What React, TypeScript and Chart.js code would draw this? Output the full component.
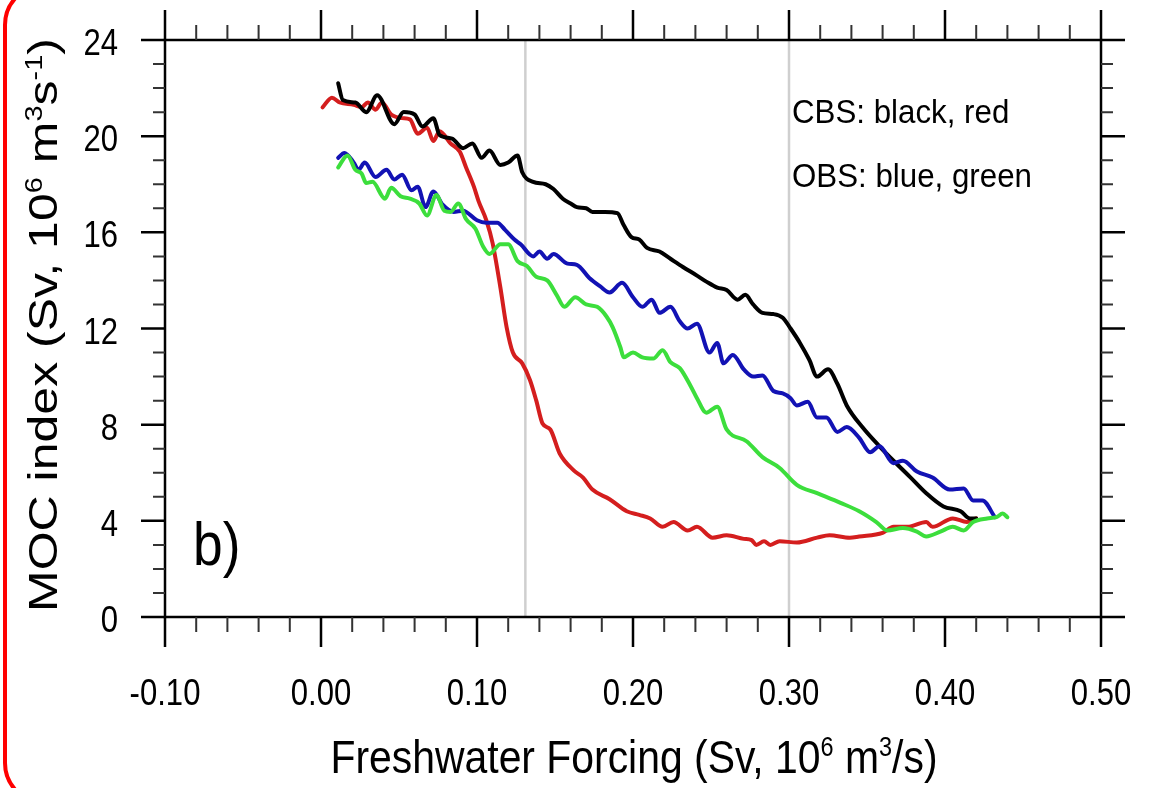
import { useEffect, useRef } from "react";
import { Chart, registerables } from "chart.js";

Chart.register(...registerables);

// ---------- axes ----------
const xMin = -0.1;
const xMax = 0.5;
const yMin = 0;
const yMax = 24;
const xTickStep = 0.1;
const yTickStep = 4;
const xMinorPerMajor = 5;
const yMinorPerMajor = 4;
const refLines = [0.131, 0.3];

// ---------- data ----------
// CBS, black
const cbsBlackX = [0.011, 0.014, 0.022, 0.029, 0.036, 0.047, 0.053, 0.06, 0.065, 0.072, 0.076, 0.084, 0.091, 0.097, 0.103, 0.108, 0.115, 0.12, 0.126, 0.129, 0.136, 0.144, 0.149, 0.155, 0.16, 0.164, 0.17, 0.174, 0.182, 0.19, 0.194, 0.199, 0.204, 0.209, 0.217, 0.224, 0.232, 0.241, 0.247, 0.254, 0.26, 0.267, 0.272, 0.277, 0.283, 0.29, 0.296, 0.301, 0.307, 0.313, 0.318, 0.325, 0.331, 0.337, 0.347, 0.358, 0.367, 0.378, 0.388, 0.399, 0.41, 0.416, 0.42];
const cbsBlackY = [22.2, 21.5, 21.4, 21.0, 21.7, 20.5, 21.0, 20.9, 20.4, 20.75, 20.05, 19.9, 19.5, 19.7, 19.1, 19.4, 18.8, 18.9, 19.2, 18.5, 18.1, 18.0, 17.8, 17.4, 17.2, 17.05, 17.0, 16.85, 16.85, 16.8, 16.3, 15.8, 15.7, 15.35, 15.2, 14.9, 14.56, 14.2, 13.95, 13.7, 13.6, 13.2, 13.4, 13.0, 12.65, 12.6, 12.45, 12.0, 11.4, 10.7, 10.0, 10.3, 9.7, 8.8, 7.9, 7.1, 6.5, 5.8, 5.15, 4.6, 4.4, 4.1, 4.1];

// CBS, red
const cbsRedX = [0.001, 0.007, 0.012, 0.021, 0.026, 0.03, 0.035, 0.039, 0.045, 0.052, 0.057, 0.062, 0.068, 0.072, 0.076, 0.083, 0.089, 0.093, 0.098, 0.101, 0.106, 0.11, 0.115, 0.119, 0.123, 0.129, 0.134, 0.138, 0.142, 0.147, 0.153, 0.162, 0.168, 0.174, 0.185, 0.196, 0.204, 0.211, 0.219, 0.226, 0.235, 0.241, 0.251, 0.26, 0.271, 0.276, 0.279, 0.284, 0.288, 0.294, 0.305, 0.318, 0.326, 0.339, 0.345, 0.36, 0.367, 0.376, 0.388, 0.392, 0.405, 0.414, 0.42];
const cbsRedY = [21.2, 21.6, 21.4, 21.3, 21.2, 21.4, 21.1, 21.4, 20.9, 20.75, 20.7, 20.1, 20.35, 19.8, 20.2, 19.7, 19.35, 18.7, 17.9, 17.3, 16.5, 15.55, 13.7, 12.05, 11.0, 10.55, 9.85, 9.0, 8.05, 7.8, 6.8, 6.1, 5.8, 5.3, 4.9, 4.4, 4.25, 4.1, 3.75, 3.95, 3.6, 3.75, 3.3, 3.4, 3.25, 3.2, 3.0, 3.15, 3.0, 3.15, 3.1, 3.3, 3.4, 3.3, 3.35, 3.5, 3.75, 3.75, 3.95, 3.75, 4.1, 3.95, 4.1];

// OBS, blue
const obsBlueX = [0.011, 0.015, 0.021, 0.024, 0.028, 0.035, 0.042, 0.047, 0.052, 0.058, 0.062, 0.067, 0.072, 0.078, 0.085, 0.091, 0.1, 0.106, 0.113, 0.118, 0.124, 0.128, 0.136, 0.14, 0.145, 0.149, 0.158, 0.164, 0.172, 0.179, 0.185, 0.193, 0.2, 0.206, 0.212, 0.217, 0.224, 0.23, 0.235, 0.241, 0.249, 0.254, 0.258, 0.264, 0.271, 0.277, 0.283, 0.29, 0.296, 0.301, 0.305, 0.312, 0.318, 0.324, 0.331, 0.337, 0.345, 0.352, 0.358, 0.367, 0.373, 0.382, 0.392, 0.403, 0.412, 0.418, 0.424, 0.432];
const obsBlueY = [19.1, 19.3, 18.9, 18.6, 18.9, 18.3, 18.6, 18.2, 18.4, 17.75, 17.9, 17.05, 17.7, 17.15, 16.85, 16.9, 16.5, 16.4, 16.4, 16.1, 15.7, 15.5, 15.0, 15.2, 14.9, 15.1, 14.7, 14.65, 14.1, 13.75, 13.5, 13.9, 13.3, 12.9, 13.2, 12.65, 12.9, 12.3, 12.0, 12.2, 11.0, 11.4, 10.55, 10.9, 10.3, 10.0, 10.05, 9.4, 9.3, 9.1, 8.8, 8.95, 8.3, 8.3, 7.7, 7.9, 7.45, 6.85, 7.1, 6.4, 6.5, 6.05, 5.8, 5.3, 5.35, 4.85, 4.85, 4.15];

// OBS, green
const obsGreenX = [0.011, 0.017, 0.022, 0.026, 0.029, 0.033, 0.041, 0.045, 0.051, 0.057, 0.063, 0.068, 0.074, 0.079, 0.083, 0.088, 0.093, 0.099, 0.104, 0.108, 0.115, 0.12, 0.126, 0.132, 0.138, 0.145, 0.151, 0.156, 0.163, 0.17, 0.177, 0.183, 0.187, 0.192, 0.194, 0.2, 0.206, 0.213, 0.219, 0.224, 0.23, 0.237, 0.241, 0.247, 0.254, 0.26, 0.273, 0.283, 0.294, 0.305, 0.318, 0.333, 0.345, 0.356, 0.363, 0.373, 0.382, 0.388, 0.397, 0.405, 0.412, 0.418, 0.427, 0.433, 0.437, 0.44];
const obsGreenY = [18.7, 19.2, 18.6, 18.45, 18.05, 18.1, 17.4, 17.85, 17.5, 17.4, 17.2, 16.7, 17.55, 16.9, 16.85, 17.2, 16.55, 16.15, 15.4, 15.1, 15.5, 15.5, 14.8, 14.6, 14.15, 14.0, 13.4, 12.9, 13.3, 13.0, 12.9, 12.5, 12.05, 11.2, 10.8, 11.0, 10.8, 10.75, 11.1, 10.6, 10.35, 9.6, 9.1, 8.5, 8.75, 7.8, 7.3, 6.65, 6.2, 5.5, 5.15, 4.75, 4.4, 3.95, 3.6, 3.7, 3.55, 3.35, 3.55, 3.75, 3.6, 3.95, 4.1, 4.15, 4.3, 4.15];

// ---------- texts ----------
const xTitleParts = [
  { t: "Freshwater Forcing (Sv, 10" },
  { t: "6", sup: true },
  { t: " m" },
  { t: "3", sup: true },
  { t: "/s)" },
];
const yTitleParts = [
  { t: "MOC index (Sv, 10" },
  { t: "6", sup: true },
  { t: " m" },
  { t: "3", sup: true },
  { t: "s" },
  { t: "-1", sup: true },
  { t: ")" },
];
const noteLines = ["CBS: black, red", "OBS: blue, green"];
const panelLabel = "b)";

const FONT = "'Liberation Sans', Arial, Helvetica, sans-serif";

type Part = { t: string; sup?: boolean };

function partsWidth(ctx: CanvasRenderingContext2D, parts: Part[], size: number) {
  let w = 0;
  for (const p of parts) {
    ctx.font = `${p.sup ? Math.round(size * 0.58) : size}px ${FONT}`;
    w += ctx.measureText(p.t).width;
  }
  return w;
}

function drawParts(ctx: CanvasRenderingContext2D, parts: Part[], x0: number, size: number) {
  let x = x0;
  for (const p of parts) {
    const s = p.sup ? Math.round(size * 0.58) : size;
    ctx.font = `${s}px ${FONT}`;
    ctx.fillText(p.t, x, p.sup ? -size * 0.37 : 0);
    x += ctx.measureText(p.t).width;
  }
}

function fmtX(v: number) {
  return Math.abs(v) < 1e-9 ? "0.00" : v.toFixed(2);
}

const decorPlugin = {
  id: "decor",
  beforeDraw(chart: any) {
    const { ctx, width, height } = chart;
    ctx.save();
    ctx.fillStyle = "#ffffff";
    ctx.fillRect(0, 0, width, height);
    ctx.restore();
  },
  beforeDatasetsDraw(chart: any) {
    const { ctx, chartArea } = chart;
    const xs = chart.scales.x;
    ctx.save();
    ctx.strokeStyle = "#cfcfcf";
    ctx.lineWidth = 2.5;
    for (const v of refLines) {
      const px = xs.getPixelForValue(v);
      ctx.beginPath();
      ctx.moveTo(px, chartArea.top);
      ctx.lineTo(px, chartArea.bottom);
      ctx.stroke();
    }
    ctx.restore();
  },
  afterDatasetsDraw(chart: any) {
    const { ctx, chartArea } = chart;
    const xs = chart.scales.x;
    const ys = chart.scales.y;
    const { left, right, top, bottom } = chartArea;
    ctx.save();
    ctx.strokeStyle = "#000";
    ctx.lineWidth = 2.5;
    ctx.strokeRect(left, top, right - left, bottom - top);
    // x ticks (top & bottom, outward)
    const xMinor = xTickStep / xMinorPerMajor;
    const nx = Math.round((xMax - xMin) / xMinor);
    for (let i = 0; i <= nx; i++) {
      const v = xMin + i * xMinor;
      const major = i % xMinorPerMajor === 0;
      const px = xs.getPixelForValue(v);
      const len = major ? 30 : 15;
      ctx.lineWidth = major ? 2.5 : 2;
      ctx.strokeStyle = major ? "#000" : "#333";
      ctx.beginPath();
      ctx.moveTo(px, top);
      ctx.lineTo(px, top - len);
      ctx.moveTo(px, bottom);
      ctx.lineTo(px, bottom + len);
      ctx.stroke();
    }
    const yMinor = yTickStep / yMinorPerMajor;
    const ny = Math.round((yMax - yMin) / yMinor);
    for (let i = 0; i <= ny; i++) {
      const v = yMin + i * yMinor;
      const major = i % yMinorPerMajor === 0;
      const py = ys.getPixelForValue(v);
      const len = major ? 24 : 12;
      ctx.lineWidth = major ? 2.5 : 2;
      ctx.strokeStyle = major ? "#000" : "#333";
      ctx.beginPath();
      ctx.moveTo(left, py);
      ctx.lineTo(left - len, py);
      ctx.moveTo(right, py);
      ctx.lineTo(right + len, py);
      ctx.stroke();
    }

    // tick labels, from the library's own tick lists
    const labelSize = 37;
    const hs = 0.84;
    ctx.fillStyle = "#000";
    ctx.font = `${labelSize}px ${FONT}`;
    ctx.textBaseline = "alphabetic";
    for (const t of xs.ticks) {
      const txt = fmtX(Number(t.value));
      const w = ctx.measureText(txt).width * hs;
      const px = xs.getPixelForValue(t.value);
      ctx.save();
      ctx.translate(px - w / 2, bottom + 88);
      ctx.scale(hs, 1);
      ctx.fillText(txt, 0, 0);
      ctx.restore();
    }
    for (const t of ys.ticks) {
      const txt = String(Math.round(Number(t.value)));
      const w = ctx.measureText(txt).width * hs;
      const py = ys.getPixelForValue(t.value);
      ctx.save();
      ctx.translate(left - 47 - w, py + 15);
      ctx.scale(hs, 1);
      ctx.fillText(txt, 0, 0);
      ctx.restore();
    }
    ctx.restore();
  },
  afterDraw(chart: any) {
    const { ctx, width, height } = chart;
    ctx.save();
    ctx.fillStyle = "#000";
    ctx.textBaseline = "alphabetic";
    ctx.textAlign = "left";

    // x title
    {
      const size = 47;
      const hs = 0.87;
      const w = partsWidth(ctx, xTitleParts, size) * hs;
      const cx = 634;
      ctx.save();
      ctx.translate(cx - w / 2, 773);
      ctx.scale(hs, 1);
      drawParts(ctx, xTitleParts, 0, size);
      ctx.restore();
    }
    // y title (rotated)
    {
      const size = 50;
      const cs = 0.83;
      const w = partsWidth(ctx, yTitleParts, size);
      ctx.save();
      ctx.translate(57, 325);
      ctx.rotate(-Math.PI / 2);
      ctx.scale(1, cs);
      drawParts(ctx, yTitleParts, -w / 2, size);
      ctx.restore();
    }
    // notes
    {
      const size = 34;
      const hs = 0.92;
      const baselines = [123, 187];
      noteLines.forEach((line, i) => {
        ctx.save();
        ctx.translate(792, baselines[i]);
        ctx.scale(hs, 1);
        ctx.font = `${size}px ${FONT}`;
        ctx.fillText(line, 0, 0);
        ctx.restore();
      });
    }
    // panel label
    {
      ctx.save();
      ctx.translate(193, 565);
      ctx.scale(0.86, 1);
      ctx.font = `62px ${FONT}`;
      ctx.fillText(panelLabel, 0, 0);
      ctx.restore();
    }
    // red rounded border
    {
      const l = 5, t = -15, r = 40;
      const rr = width + 200;
      const b = height + 15;
      ctx.strokeStyle = "#ff0000";
      ctx.lineWidth = 4;
      ctx.beginPath();
      ctx.moveTo(rr, t);
      ctx.lineTo(l + r, t);
      ctx.arcTo(l, t, l, t + r, r);
      ctx.lineTo(l, b - r);
      ctx.arcTo(l, b, l + r, b, r);
      ctx.lineTo(rr, b);
      ctx.stroke();
    }
    ctx.restore();
  },
};

function series(xs: number[], ys: number[]) {
  return xs.map((x, i) => ({ x, y: ys[i] }));
}

export default function App() {
  const ref = useRef<HTMLCanvasElement | null>(null);
  useEffect(() => {
    if (!ref.current) return;
    const lineDs = (label: string, xs: number[], ys: number[], color: string) => ({
      label,
      data: series(xs, ys),
      borderColor: color,
      backgroundColor: color,
      borderWidth: 4,
      pointRadius: 0,
      cubicInterpolationMode: "monotone",
      borderJoinStyle: "round",
      borderCapStyle: "round",
      fill: false,
      xAxisID: "x",
      yAxisID: "y",
    });
    const hiddenAxis = (position: string, min: number, max: number, size: number, horizontal: boolean) => ({
      type: "linear",
      position,
      min,
      max,
      grid: { display: false, drawTicks: false },
      border: { display: false },
      ticks: { display: false },
      afterFit: (s: any) => {
        if (horizontal) s.height = size;
        else s.width = size;
      },
    });
    const chart = new Chart(ref.current, {
      type: "line",
      data: {
        datasets: [
          lineDs("OBS green", obsGreenX, obsGreenY, "rgb(60,222,60)"),
          lineDs("OBS blue", obsBlueX, obsBlueY, "rgb(18,18,180)"),
          lineDs("CBS black", cbsBlackX, cbsBlackY, "#000000"),
          lineDs("CBS red", cbsRedX, cbsRedY, "rgb(212,30,30)"),
        ],
      },
      options: {
        animation: false,
        responsive: false,
        devicePixelRatio: 1,
        layout: { padding: 0 },
        plugins: { legend: { display: false }, tooltip: { enabled: false }, title: { display: false } },
        scales: {
          x: {
            ...hiddenAxis("bottom", xMin, xMax, 171, true),
            ticks: { display: false, stepSize: xTickStep, autoSkip: false, maxRotation: 0 },
          },
          xTop: hiddenAxis("top", xMin, xMax, 40, true),
          y: {
            ...hiddenAxis("left", yMin, yMax, 165, false),
            ticks: { display: false, stepSize: yTickStep, autoSkip: false },
          },
          yRight: hiddenAxis("right", yMin, yMax, 50, false),
        },
      },
      plugins: [decorPlugin],
    } as any);
    return () => chart.destroy();
  }, []);
  return (
    <canvas
      ref={ref}
      width={1151}
      height={788}
      style={{ position: "absolute", left: 0, top: 0, display: "block", width: 1151, height: 788 }}
    />
  );
}
